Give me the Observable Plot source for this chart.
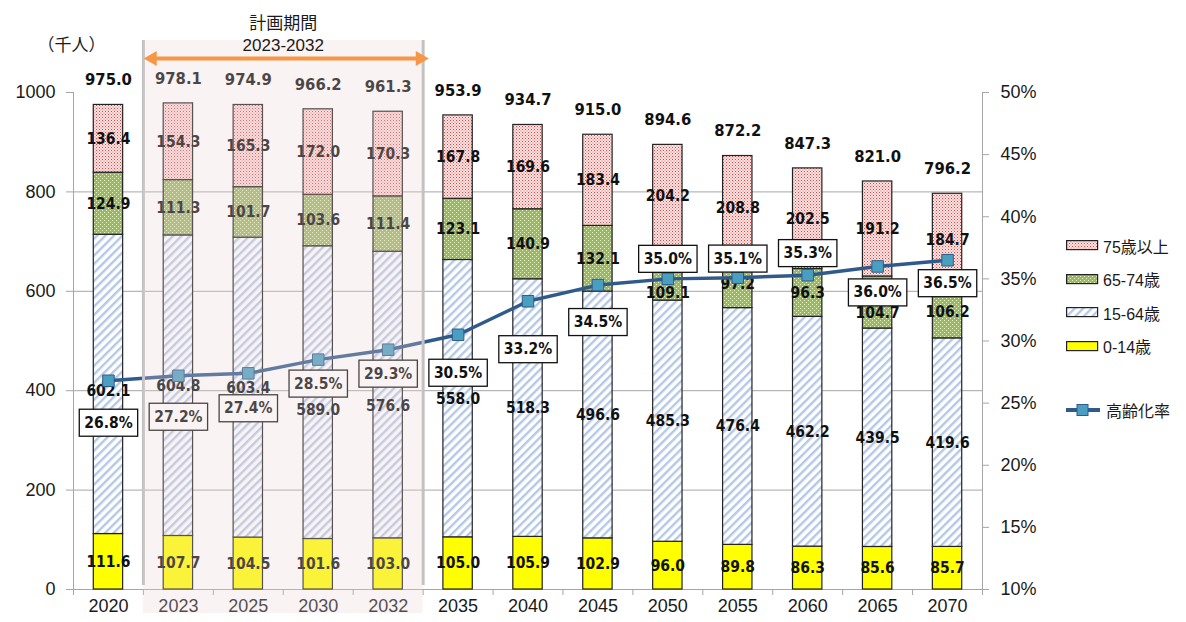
<!DOCTYPE html>
<html>
<head>
<meta charset="utf-8">
<script src="https://cdn.jsdelivr.net/npm/d3@7"></script>
<script src="https://cdn.jsdelivr.net/npm/@observablehq/plot@0.6"></script>
<style>
  body { margin: 0; background: #fff; }
  #wrap { position: relative; width: 1186px; height: 622px; overflow: hidden;
          font-family: 'Liberation Sans', 'Noto Sans CJK JP', sans-serif; color: #1a1a1a; }
  #legend { position: absolute; left: 1066px; top: 229px; font-size: 16px; }
  #legend .item { display: flex; align-items: center; height: 33.5px; }
  #legend .item svg { margin-right: 4px; }
  #legend .spacer { height: 30px; }
</style>
</head>
<body>
<div id="wrap"><div id="legend"></div></div>
<script>
// ---------- data ----------
const years     = ["2020","2023","2025","2030","2032","2035","2040","2045","2050","2055","2060","2065","2070"];
const age0_14   = [111.6,107.7,104.5,101.6,103.0,105.0,105.9,102.9,96.0,89.8,86.3,85.6,85.7];
const age15_64  = [602.1,604.8,603.4,589.0,576.6,558.0,518.3,496.6,485.3,476.4,462.2,439.5,419.6];
const age65_74  = [124.9,111.3,101.7,103.6,111.4,123.1,140.9,132.1,109.1,97.2,96.3,104.7,106.2];
const age75plus = [136.4,154.3,165.3,172.0,170.3,167.8,169.6,183.4,204.2,208.8,202.5,191.2,184.7];
const totals    = [975.0,978.1,974.9,966.2,961.3,953.9,934.7,915.0,894.6,872.2,847.3,821.0,796.2];
const agingRate = [26.8,27.2,27.4,28.5,29.3,30.5,33.2,34.5,35.0,35.1,35.3,36.0,36.5];
const seriesNames = ["0-14歳","15-64歳","65-74歳","75歳以上"];
const leftTicks  = [0,200,400,600,800,1000];
const rightTicks = [10,15,20,25,30,35,40,45,50];
const periodYears = ["2023","2032"];
const periodTitle = "計画期間";
const unitLabel = "（千人）";
const rateName = "高齢化率";

// ---------- layout / styling (label nudges in px, as placed in the original) ----------
const rateLabelDy = {"2020": 42, "2023": 41, "2025": 35, "2030": 24, "2032": 24, "2035": 38, "2040": 48,
                     "2045": 37, "2050": -20, "2055": -19, "2060": -22, "2065": 26, "2070": 23};
const segLabelDy = {"2020|15-64歳": 7, "2030|15-64歳": 17, "2032|15-64歳": 11, "2050|65-74歳": 20, "2065|65-74歳": 11};
const seriesFill = ["#ffff00","url(#pat1564)","url(#pat6574)","url(#pat75)"];
const lineColor = "#2f5b8c";
const markerFill = "#4a9fc0";
const gridColor = "#a6a6a6";
const half = 0.21;

// ---------- derived tables ----------
const seriesValues = [age0_14, age15_64, age65_74, age75plus];
const rows = [];
years.forEach((y, i) => {
  let cum = 0;
  seriesNames.forEach((s, k) => {
    const v = seriesValues[k][i];
    rows.push({i, year: y, series: s, key: y + "|" + s, value: v, y1: cum, y2: cum + v});
    cum += v;
  });
});
const pts = years.map((y, i) => ({i, year: y, rate: agingRate[i], total: totals[i]}));
const rateToY = p => (p - 10) * 25;          // 10%–50%  ->  0–1000 on the shared y scale
const p0 = years.indexOf(periodYears[0]);
const p1 = years.indexOf(periodYears[1]);
const lo = p0 - 0.5, hi = p1 + 0.5;

const lblFont = "'DejaVu Sans Condensed','DejaVu Sans',sans-serif";
const cjk = "'Noto Sans CJK JP',sans-serif";

const segText = (data, dy) => Plot.text(data, {x: "i", y: d => (d.y1 + d.y2) / 2, dy, text: d => d.value.toFixed(1), fontFamily: lblFont, fontWeight: "bold", fontSize: 15.5, fill: "#111"});
const rateText = d => Plot.text([d], {x: "i", y: r => rateToY(r.rate), dy: rateLabelDy[d.year] ?? 32, text: r => r.rate.toFixed(1) + "%", fontFamily: lblFont, fontWeight: "bold", fontSize: 15.5, fill: "#111", ariaDescription: "pct-labels"});

const plot = Plot.plot({
  width: 1186,
  height: 622,
  marginLeft: 73,
  marginRight: 204,
  marginTop: 92,
  marginBottom: 33,
  style: {fontFamily: "'Liberation Sans','Noto Sans CJK JP',sans-serif", fontSize: "18px", color: "#1a1a1a", background: "transparent", overflow: "visible"},
  x: {domain: [-0.5, years.length - 0.5], axis: null},
  y: {domain: [0, 1000], axis: null},
  color: {domain: seriesNames, range: seriesFill},
  marks: [
    Plot.gridY([200, 400, 600, 800], {stroke: gridColor, strokeOpacity: 1}),
    Plot.ruleX([-0.5, years.length - 0.5], {stroke: gridColor}),
    Plot.ruleY([0], {stroke: gridColor}),
    Plot.rect(rows, {x1: d => d.i - half, x2: d => d.i + half, y1: "y1", y2: "y2", fill: "series", stroke: "#222", strokeWidth: 1.2}),
    segText(rows.filter(d => !(d.key in segLabelDy)), 0),
    ...rows.filter(d => d.key in segLabelDy).map(d => segText([d], segLabelDy[d.key])),
    Plot.line(pts, {x: "i", y: d => rateToY(d.rate), stroke: lineColor, strokeWidth: 3.5}),
    Plot.dot(pts, {x: "i", y: d => rateToY(d.rate), symbol: "square", r: 6.5, fill: markerFill, stroke: lineColor, strokeWidth: 1}),
    ...pts.map(rateText),
    Plot.text(pts, {x: "i", y: "total", dy: -25, text: d => d.total.toFixed(1), fontFamily: lblFont, fontWeight: "bold", fontSize: 16.5, fill: "#111"}),
    Plot.axisY({ticks: leftTicks, anchor: "left", label: null, tickSize: 7, tickPadding: 11, tickFormat: d => String(d), stroke: gridColor, fill: "#1a1a1a", fontSize: 18}),
    Plot.axisY({ticks: rightTicks.map(rateToY), anchor: "right", label: null, tickSize: 6, tickPadding: 12, tickFormat: v => (v / 25 + 10) + "%", stroke: gridColor, fill: "#1a1a1a", fontSize: 18}),
    Plot.axisX({ticks: d3.range(years.length), anchor: "bottom", label: null, tickSize: 0, tickPadding: 10, tickFormat: i => years[i], fill: "#1a1a1a", fontSize: 18}),
    Plot.axisX({ticks: d3.range(years.length + 1).map(k => k - 0.5), anchor: "bottom", label: null, tickSize: 6, tickFormat: () => "", stroke: gridColor}),
    // planning period
    Plot.ruleX([lo, hi], {stroke: "#c0c0c0", strokeWidth: 3, insetTop: -52, insetBottom: 4}),
    Plot.rect([0], {x1: lo, x2: hi, fill: "#ecd2d2", fillOpacity: 0.27, insetTop: -52, insetBottom: -24}),
    Plot.ruleY([1000], {x1: lo, x2: hi, insetLeft: 8, insetRight: 4, dy: -34, stroke: "#f79646", strokeWidth: 4}),
    Plot.dot([lo], {x: d => d, frameAnchor: "top", dy: -34, dx: 9, symbol: "triangle", rotate: -90, r: 5.6, fill: "#f79646", stroke: "none"}),
    Plot.dot([hi], {x: d => d, frameAnchor: "top", dy: -34, dx: -3, symbol: "triangle", rotate: 90, r: 5.6, fill: "#f79646", stroke: "none"}),
    Plot.text([periodTitle], {x: (p0 + p1) / 2, frameAnchor: "top", lineAnchor: "middle", dy: -69, fontSize: 17, fontFamily: cjk, fill: "#1a1a1a"}),
    Plot.text([`${periodYears[0]}-${periodYears[1]}`], {x: (p0 + p1) / 2, frameAnchor: "top", lineAnchor: "middle", dy: -47, fontSize: 17, fill: "#1a1a1a"}),
    Plot.text([unitLabel], {frameAnchor: "top-left", lineAnchor: "middle", textAnchor: "start", dx: -36, dy: -47, fontSize: 17, fontFamily: cjk, fill: "#1a1a1a"})
  ]
});

// patterns
const ns = "http://www.w3.org/2000/svg";
const defs = document.createElementNS(ns, "defs");
defs.innerHTML = `
  <pattern id="pat75" width="3" height="3" patternUnits="userSpaceOnUse">
    <rect width="3" height="3" fill="#fbe4e4"/>
    <rect x="0" y="0" width="1" height="1" fill="#d9453f"/>
    <rect x="1.5" y="1.5" width="1" height="1" fill="#e46a66"/>
  </pattern>
  <pattern id="pat6574" width="4" height="4" patternUnits="userSpaceOnUse">
    <rect width="4" height="4" fill="#9bbb59"/>
    <rect x="0" y="0" width="1" height="1" fill="#e6eed3"/>
    <rect x="2" y="2" width="1" height="1" fill="#e6eed3"/>
  </pattern>
  <pattern id="pat1564" width="6" height="6" patternUnits="userSpaceOnUse" patternTransform="rotate(45)">
    <rect width="6" height="6" fill="#ffffff"/>
    <rect x="0" y="0" width="2.4" height="6" fill="#b4c8e6"/>
  </pattern>`;
plot.prepend(defs);
document.getElementById("wrap").prepend(plot);

// boxes behind the rate labels
document.querySelectorAll('g[aria-description="pct-labels"] text').forEach(t => {
  const b = t.getBBox();
  const r = document.createElementNS(ns, "rect");
  r.setAttribute("x", b.x - 5);
  r.setAttribute("width", b.width + 10);
  r.setAttribute("y", b.y + b.height / 2 - 13.5);
  r.setAttribute("height", 27);
  r.setAttribute("fill", "#fff");
  r.setAttribute("stroke", "#111");
  r.setAttribute("stroke-width", 1.3);
  if (t.getAttribute("transform")) r.setAttribute("transform", t.getAttribute("transform"));
  t.parentNode.insertBefore(r, t);
});

// legend
const legend = document.getElementById("legend");
[...seriesNames].reverse().forEach(s => {
  const k = seriesNames.indexOf(s);
  const item = document.createElement("div");
  item.className = "item";
  item.innerHTML = `<svg width="33" height="11"><rect x="0.6" y="0.6" width="31" height="9" fill="${seriesFill[k]}" stroke="#222" stroke-width="1.2"/></svg><span>${s}</span>`;
  legend.appendChild(item);
});
const sp = document.createElement("div"); sp.className = "spacer"; legend.appendChild(sp);
const li = document.createElement("div");
li.className = "item";
li.innerHTML = `<svg width="36" height="14"><line x1="0" x2="34" y1="7" y2="7" stroke="${lineColor}" stroke-width="4"/><rect x="11" y="1.5" width="11" height="11" fill="${markerFill}" stroke="${lineColor}" stroke-width="1"/></svg><span>${rateName}</span>`;
legend.appendChild(li);
</script>
</body>
</html>
